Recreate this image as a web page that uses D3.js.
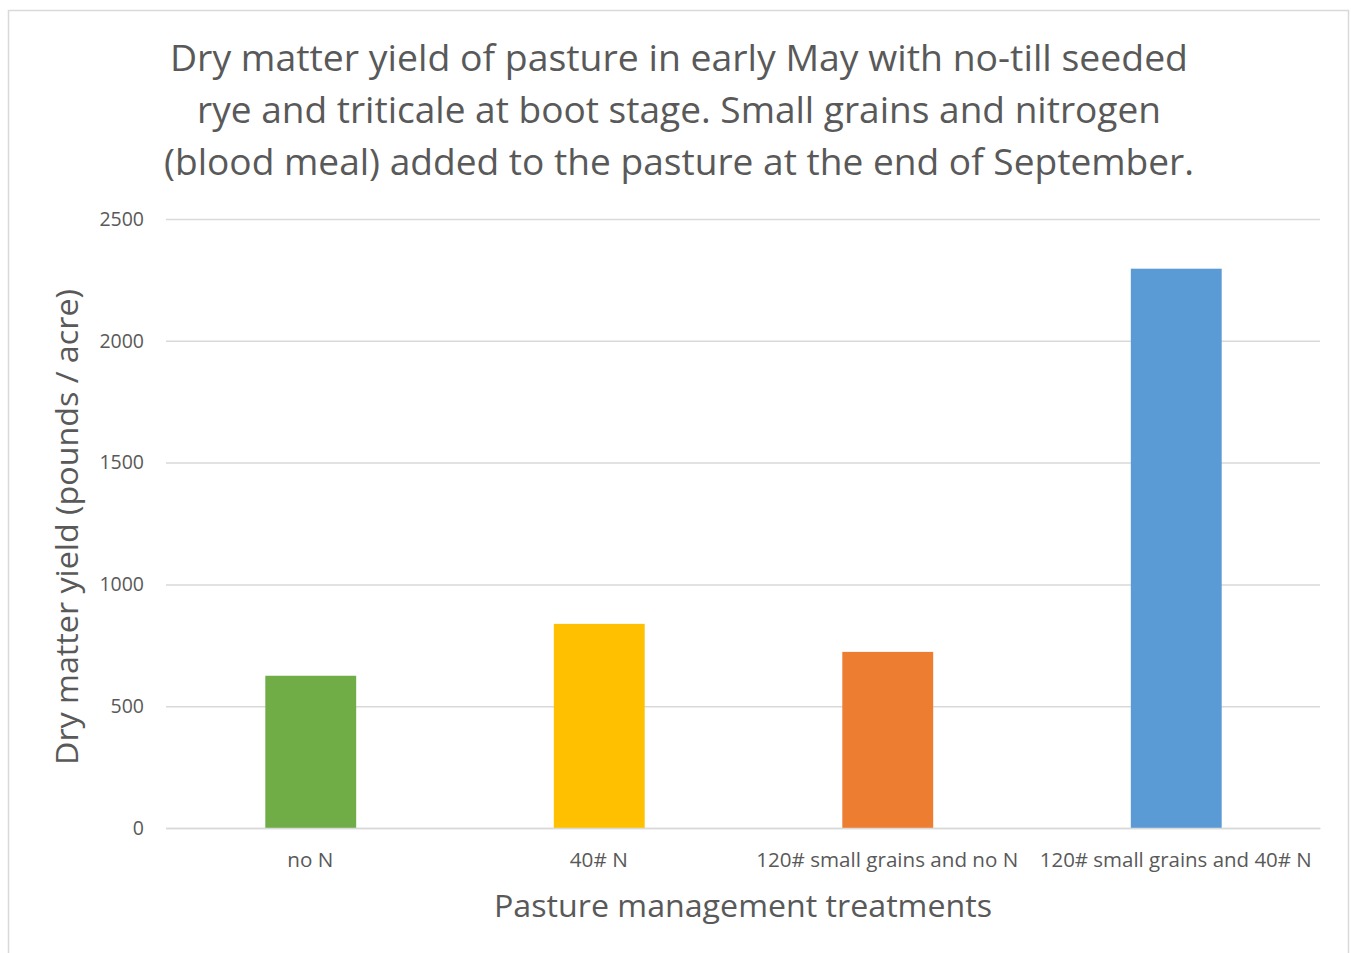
<!DOCTYPE html>
<html>
<head>
<meta charset="utf-8">
<script src="https://cdn.jsdelivr.net/npm/d3@7"></script>
<style>
  body { margin: 0; background: #fff; }
  svg text { font-family: "Open Sans", "Noto Sans", sans-serif; fill: #595959; }
</style>
</head>
<body>
<svg id="chart" width="1351" height="953"></svg>
<script>
var categories = ["no N", "40# N", "120# small grains and no N", "120# small grains and 40# N"];
var yields = [625, 838, 723, 2296];
var barColors = ["#70AD47", "#FFC000", "#ED7D31", "#5B9BD5"];
var yTicks = [0, 500, 1000, 1500, 2000, 2500];
var titleLines = [
  "Dry matter yield of pasture in early May with no-till seeded",
  "rye and triticale at boot stage. Small grains and nitrogen",
  "(blood meal) added to the pasture at the end of September."
];
var titleWidths = [1018, 964, 1030];
var xLabelWidths = [46, 58, 262, 272];

var svg = d3.select("#chart"),
    margin = {top: 219, right: 31, bottom: 125, left: 166},
    width = 1351 - margin.left - margin.right,
    height = 953 - margin.top - margin.bottom;

// chart border
svg.append("rect")
    .attr("x", 8.5).attr("y", 10.5)
    .attr("width", 1340).attr("height", 960)
    .attr("fill", "#fff")
    .attr("stroke", "#d9d9d9")
    .attr("stroke-width", 1.5);

var g = svg.append("g").attr("transform", "translate(" + margin.left + "," + margin.top + ")");

var xScale = d3.scaleBand().domain(categories).range([0, width]).paddingInner(0.685).paddingOuter(0.3425),
    yScale = d3.scaleLinear().domain([0, 2500]).range([height, 0]);

// gridlines + y labels
var yAxis = d3.axisLeft(yScale).tickValues(yTicks).tickFormat(d3.format("d")).tickSize(-width).tickPadding(22);
g.append("g")
    .attr("class", "axis axis--y")
    .call(yAxis)
    .call(function(a) {
      a.select(".domain").remove();
      a.selectAll(".tick line").attr("stroke", "#d9d9d9").attr("stroke-width", 1.5);
      a.selectAll(".tick text").style("font-size", "19.5px").attr("fill", "#595959");
    });

// bars
g.selectAll(".bar")
    .data(yields)
  .enter().append("rect")
    .attr("class", "bar")
    .attr("x", function(d, i) { return xScale(categories[i]) + 0.5; })
    .attr("width", xScale.bandwidth())
    .attr("y", function(d) { return yScale(d); })
    .attr("height", function(d) { return height - yScale(d); })
    .attr("fill", function(d, i) { return barColors[i]; });

// x axis
var xAxis = d3.axisBottom(xScale).tickSize(0).tickPadding(25);
g.append("g")
    .attr("class", "axis axis--x")
    .attr("transform", "translate(0," + height + ")")
    .call(xAxis)
    .call(function(a) {
      a.select(".domain").attr("stroke", "#d9d9d9").attr("stroke-width", 1.5);
      a.selectAll(".tick text")
          .style("font-size", "20px")
          .attr("fill", "#595959")
          .attr("textLength", function(d, i) { return xLabelWidths[i]; })
          .attr("lengthAdjust", "spacingAndGlyphs");
    });

// title
svg.append("g").selectAll("text")
    .data(titleLines)
  .enter().append("text")
    .attr("x", 679)
    .attr("y", function(d, i) { return 71 + i * 52; })
    .attr("text-anchor", "middle")
    .attr("textLength", function(d, i) { return titleWidths[i]; })
    .attr("lengthAdjust", "spacingAndGlyphs")
    .style("font-size", "36px")
    .text(function(d) { return d; });

// axis titles
svg.append("text")
    .attr("x", 743).attr("y", 917)
    .attr("text-anchor", "middle")
    .attr("textLength", 498)
    .attr("lengthAdjust", "spacingAndGlyphs")
    .style("font-size", "31px")
    .text("Pasture management treatments");

svg.append("text")
    .attr("transform", "translate(78,527) rotate(-90)")
    .attr("text-anchor", "middle")
    .attr("textLength", 476)
    .attr("lengthAdjust", "spacingAndGlyphs")
    .style("font-size", "31px")
    .text("Dry matter yield (pounds / acre)");
</script>
</body>
</html>
